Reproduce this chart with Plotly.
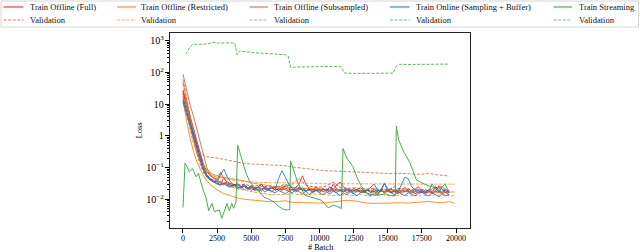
import plotly.graph_objects as go

# ---------------- data ----------------
X_DENSE = list(range(0, 19501, 250))
X_MAIN = [0, 250, 500, 750, 1000, 1250, 1500, 1750, 2000,
          2500, 3000, 3500, 4000, 4500, 5000, 5500, 6000, 6500, 7000,
          7500, 8000, 8500, 9000, 9500, 10000, 10500, 11000, 11500, 12000,
          12500, 13000, 13500, 14000, 14500, 15000, 15500, 16000, 16500, 17000,
          17500, 18000, 18500, 19000, 19500]
X_RESTR = X_MAIN + [19900]

# Train Offline (Full)
FULL_TRAIN_1 = [28, 11, 4.5, 1.8, 0.75, 0.3, 0.13, 0.075, 0.055, 0.048,
                0.042, 0.07, 0.045, 0.035, 0.032, 0.028, 0.03, 0.025, 0.027, 0.022,
                0.026, 0.021, 0.024, 0.03, 0.022, 0.02, 0.025, 0.019, 0.022, 0.02,
                0.028, 0.022, 0.019, 0.024, 0.03, 0.055, 0.03, 0.022, 0.02, 0.025,
                0.019, 0.022, 0.018, 0.024, 0.02, 0.028, 0.035, 0.025, 0.02, 0.018,
                0.022, 0.019, 0.024, 0.018, 0.02, 0.017, 0.021, 0.018, 0.02, 0.016,
                0.019, 0.022, 0.017, 0.02, 0.018, 0.024, 0.019, 0.016, 0.021, 0.025,
                0.018, 0.016, 0.02, 0.017, 0.025, 0.019, 0.016, 0.021, 0.017]
FULL_TRAIN_2 = [22, 8, 3.2, 1.3, 0.5, 0.2, 0.09, 0.055, 0.042, 0.036,
                0.032, 0.028, 0.05, 0.03, 0.026, 0.03, 0.024, 0.022, 0.026, 0.02,
                0.023, 0.019, 0.021, 0.018, 0.025, 0.02, 0.017, 0.022, 0.019, 0.024,
                0.02, 0.018, 0.021, 0.017, 0.02, 0.023, 0.018, 0.02, 0.016, 0.019,
                0.021, 0.017, 0.02, 0.018, 0.03, 0.022, 0.018, 0.02, 0.016, 0.019,
                0.017, 0.021, 0.016, 0.018, 0.02, 0.016, 0.018, 0.015, 0.019, 0.017,
                0.02, 0.016, 0.018, 0.015, 0.019, 0.017, 0.022, 0.018, 0.015, 0.017,
                0.02, 0.016, 0.019, 0.015, 0.018, 0.027, 0.02, 0.016, 0.014]
FULL_VAL_1 = [18, 6, 2.2, 0.8, 0.3, 0.13, 0.07, 0.05, 0.04,
              0.032, 0.028, 0.026, 0.024, 0.025, 0.022, 0.023, 0.021, 0.022, 0.02,
              0.022, 0.02, 0.021, 0.019, 0.02, 0.019, 0.021, 0.019, 0.02, 0.018,
              0.019, 0.018, 0.019, 0.017, 0.018, 0.017, 0.018, 0.017, 0.018, 0.016,
              0.017, 0.016, 0.017, 0.016, 0.017]
FULL_VAL_2 = [25, 9, 3.5, 1.4, 0.6, 0.25, 0.11, 0.06, 0.045,
              0.038, 0.033, 0.03, 0.028, 0.03, 0.026, 0.027, 0.025, 0.026, 0.024,
              0.026, 0.03, 0.045, 0.028, 0.025, 0.024, 0.026, 0.035, 0.024, 0.022,
              0.023, 0.022, 0.021, 0.022, 0.02, 0.021, 0.02, 0.022, 0.02, 0.021,
              0.02, 0.019, 0.024, 0.02, 0.019]

# Train Offline (Restricted)
RESTR_TRAIN_1 = [50, 14, 4, 1.2, 0.4, 0.17, 0.1, 0.075, 0.065,
                 0.055, 0.048, 0.045, 0.042, 0.038, 0.033, 0.03, 0.028, 0.026, 0.025,
                 0.024, 0.023, 0.023, 0.022, 0.022, 0.021, 0.021, 0.02, 0.021, 0.02,
                 0.02, 0.019, 0.02, 0.019, 0.019, 0.018, 0.019, 0.018, 0.018, 0.018,
                 0.017, 0.018, 0.017, 0.017, 0.017, 0.017]
RESTR_TRAIN_2 = [12, 3, 0.9, 0.35, 0.16, 0.09, 0.055, 0.038, 0.029,
                 0.02, 0.015, 0.013, 0.011, 0.01, 0.0095, 0.009, 0.0085, 0.0083, 0.0085,
                 0.009, 0.008, 0.0078, 0.008, 0.0077, 0.0076, 0.0078, 0.0082, 0.0088, 0.0093,
                 0.009, 0.0082, 0.0076, 0.0074, 0.0075, 0.0077, 0.0079, 0.0078, 0.0076, 0.0079,
                 0.0082, 0.0086, 0.008, 0.0078, 0.0084, 0.0075]
RESTR_VAL_1 = [45, 10, 2.5, 0.8, 0.3, 0.15, 0.09, 0.07, 0.06,
               0.05, 0.045, 0.041, 0.038, 0.036, 0.035, 0.034, 0.034, 0.033, 0.033,
               0.033, 0.032, 0.032, 0.032, 0.032, 0.031, 0.031, 0.031, 0.031, 0.031,
               0.031, 0.031, 0.030, 0.031, 0.030, 0.030, 0.031, 0.030, 0.030, 0.030,
               0.030, 0.030, 0.030, 0.030, 0.030, 0.030]
RESTR_VAL_2 = [20, 5, 1.5, 0.6, 0.3, 0.18, 0.12, 0.09, 0.07,
               0.045, 0.032, 0.025, 0.021, 0.019, 0.017, 0.016, 0.015, 0.014, 0.014,
               0.014, 0.015, 0.014, 0.014, 0.015, 0.014, 0.014, 0.013, 0.014, 0.014,
               0.013, 0.014, 0.013, 0.013, 0.014, 0.013, 0.013, 0.014, 0.013, 0.013,
               0.013, 0.013, 0.014, 0.013, 0.013, 0.013]

# Train Offline (Subsampled)
SUB_TRAIN = [89, 30, 10, 4.5, 1.8, 0.7, 0.25, 0.1, 0.06, 0.045,
             0.038, 0.034, 0.03, 0.033, 0.028, 0.026, 0.029, 0.024, 0.026, 0.023,
             0.025, 0.022, 0.024, 0.021, 0.023, 0.02, 0.022, 0.024, 0.021, 0.019,
             0.022, 0.02, 0.021, 0.019, 0.022, 0.02, 0.018, 0.021, 0.019, 0.02,
             0.018, 0.02, 0.019, 0.017, 0.02, 0.018, 0.019, 0.017, 0.019, 0.018,
             0.02, 0.017, 0.018, 0.016, 0.019, 0.017, 0.018, 0.016, 0.018, 0.017,
             0.019, 0.016, 0.018, 0.017, 0.016, 0.018, 0.017, 0.016, 0.018, 0.016,
             0.017, 0.015, 0.017, 0.016, 0.018, 0.016, 0.015, 0.017, 0.016]
SUB_VAL = [60, 16, 4.5, 1.4, 0.55, 0.3, 0.24, 0.22, 0.21,
           0.2, 0.18, 0.165, 0.15, 0.135, 0.13, 0.125, 0.12, 0.12, 0.118,
           0.115, 0.105, 0.098, 0.092, 0.088, 0.083, 0.08, 0.078, 0.076, 0.075,
           0.074, 0.072, 0.07, 0.069, 0.067, 0.066, 0.064, 0.066, 0.063, 0.062,
           0.062, 0.066, 0.06, 0.057, 0.054]

# Train Online (Sampling + Buffer)
ONLINE_TRAIN_1 = [15, 6.5, 2.8, 1.2, 0.5, 0.22, 0.1, 0.06, 0.045, 0.038,
                  0.035, 0.06, 0.09, 0.05, 0.035, 0.028, 0.032, 0.025, 0.03, 0.022,
                  0.027, 0.02, 0.025, 0.03, 0.021, 0.019, 0.024, 0.02, 0.045, 0.08,
                  0.05, 0.03, 0.022, 0.019, 0.024, 0.02, 0.018, 0.022, 0.017, 0.02,
                  0.016, 0.021, 0.018, 0.025, 0.019, 0.016, 0.02, 0.017, 0.022, 0.019,
                  0.015, 0.018, 0.02, 0.016, 0.019, 0.024, 0.03, 0.02, 0.017, 0.032,
                  0.018, 0.016, 0.02, 0.017, 0.03, 0.05, 0.045, 0.025, 0.02, 0.019,
                  0.016, 0.02, 0.018, 0.03, 0.022, 0.017, 0.025, 0.019, 0.016]
ONLINE_TRAIN_2 = [12, 5, 2.1, 0.9, 0.4, 0.17, 0.08, 0.05, 0.04, 0.034,
                  0.03, 0.028, 0.032, 0.026, 0.024, 0.028, 0.022, 0.025, 0.02, 0.023,
                  0.019, 0.022, 0.018, 0.021, 0.017, 0.02, 0.018, 0.016, 0.019, 0.017,
                  0.015, 0.018, 0.016, 0.02, 0.017, 0.015, 0.018, 0.014, 0.017, 0.019,
                  0.016, 0.014, 0.017, 0.015, 0.018, 0.016, 0.013, 0.016, 0.014, 0.017,
                  0.015, 0.013, 0.016, 0.018, 0.015, 0.013, 0.016, 0.014, 0.02, 0.032,
                  0.022, 0.016, 0.014, 0.017, 0.015, 0.013, 0.016, 0.014, 0.013, 0.015,
                  0.017, 0.014, 0.013, 0.016, 0.014, 0.012, 0.015, 0.013, 0.014]
ONLINE_VAL = [13, 5.5, 2.4, 1.0, 0.45, 0.2, 0.09, 0.055, 0.042,
              0.034, 0.03, 0.028, 0.026, 0.025, 0.024, 0.023, 0.022, 0.023, 0.025,
              0.03, 0.024, 0.022, 0.021, 0.02, 0.021, 0.02, 0.022, 0.019, 0.02,
              0.019, 0.018, 0.019, 0.018, 0.021, 0.019, 0.025, 0.02, 0.018, 0.019,
              0.018, 0.017, 0.02, 0.018, 0.017]

# Train Streaming
STREAM_X = [0, 150, 470, 710, 950, 1130, 1440, 1690, 1880, 2130,
            2300, 2670, 2840, 3080, 3220, 3400, 3570, 3710, 3880, 4010,
            4200, 4400, 4600, 4900, 5200, 5500, 5900, 6300, 6700, 7000,
            7300, 7600, 7820, 7880, 8100, 8430, 8700, 8920, 9300, 9650,
            10140, 10630, 11000, 11300, 11600, 11720, 12000, 12450, 12820, 13100,
            13430, 13800, 14290, 14800, 15200, 15550, 15630, 15800, 16200, 16600,
            17100, 17500, 17830, 18200, 18560, 19000, 19200, 19410]
STREAM_TRAIN = [0.0055, 0.14, 0.074, 0.093, 0.051, 0.066, 0.022, 0.011, 0.0044, 0.0074,
                0.0041, 0.0046, 0.0025, 0.0052, 0.0074, 0.0044, 0.0074, 0.0052, 0.0083, 0.5,
                0.25, 0.12, 0.07, 0.035, 0.025, 0.02, 0.012, 0.01, 0.008, 0.006,
                0.005, 0.0046, 0.0048, 0.16, 0.08, 0.032, 0.02, 0.0135, 0.012, 0.011,
                0.0093, 0.0054, 0.0065, 0.006, 0.0051, 0.4, 0.2, 0.107, 0.041, 0.025,
                0.0162, 0.014, 0.0135, 0.015, 0.013, 0.013, 2.0, 0.74, 0.3, 0.15,
                0.041, 0.033, 0.028, 0.025, 0.022, 0.025, 0.03, 0.02]
STREAM_VAL_X = [200, 500, 730, 1000, 1500, 2000, 2200, 2500, 3000, 3500,
                3800, 3960, 4150, 4500, 5000, 5500, 6000, 6500, 7000, 7500,
                7700, 7900, 8500, 9000, 10000, 11000, 11600, 11800, 12500, 13500,
                14500, 15400, 15600, 15870, 16500, 17500, 18500, 19400]
STREAM_VAL = [380, 620, 790, 760, 780, 820, 900, 840, 850, 860,
              820, 360, 470, 450, 430, 410, 400, 390, 375, 360,
              330, 145, 148, 150, 158, 155, 150, 96, 93, 92,
              93, 95, 150, 180, 178, 180, 182, 183]

LEGEND_LABELS = ["Train Offline (Full)", "Train Offline (Restricted)",
                 "Train Offline (Subsampled)", "Train Online (Sampling + Buffer)",
                 "Train Streaming"]
VAL_LABEL = "Validation"
X_TITLE = "# Batch"
Y_TITLE = "Loss"
X_TICKS = [0, 2500, 5000, 7500, 10000, 12500, 15000, 17500, 20000]

# ---------------- styles ----------------
RED, ORANGE, BROWN, BLUE, GREEN = "#d62728", "#ff7f0e", "#c0673f", "#1f77b4", "#2ca02c"
COLORS = [RED, ORANGE, BROWN, BLUE, GREEN]
FONT = "Liberation Serif"
DASH = "3px,1.6px"
W, H = 640, 252
ML, MR, MT, MB = 170, 170, 33, 24

fig = go.Figure()


def add(x, y, color, dashed=False):
    fig.add_trace(go.Scatter(
        x=x, y=y, mode="lines", showlegend=False, hoverinfo="skip",
        opacity=0.85,
        line=dict(color=color, width=0.9 if dashed else 1.0,
                  dash=DASH if dashed else "solid")))


add(X_DENSE, FULL_TRAIN_1, RED)
add(X_DENSE, FULL_TRAIN_2, RED)
add(X_MAIN, FULL_VAL_1, RED, True)
add(X_MAIN, FULL_VAL_2, RED, True)
add(X_RESTR, RESTR_TRAIN_1, ORANGE)
add(X_RESTR, RESTR_TRAIN_2, ORANGE)
add(X_RESTR, RESTR_VAL_1, ORANGE, True)
add(X_RESTR, RESTR_VAL_2, ORANGE, True)
add(X_DENSE, SUB_TRAIN, BROWN)
add(X_MAIN, SUB_VAL, BROWN, True)
add(X_DENSE, ONLINE_TRAIN_1, BLUE)
add(X_DENSE, ONLINE_TRAIN_2, BLUE)
add(X_MAIN, ONLINE_VAL, BLUE, True)
add(STREAM_X, STREAM_TRAIN, GREEN)
add(STREAM_VAL_X, STREAM_VAL, GREEN, True)

# ---------------- manual legend (pixel layout) ----------------
PW, PH = W - ML - MR, H - MT - MB


def px(x):
    return (x - ML) / PW


def py(y):
    return (H - MB - y) / PH


COL_LINE = [(3.5, 23.5), (117, 136), (249.5, 268), (390, 409.5), (553.5, 572)]
COL_TEXT = [28.5, 140, 273, 414.5, 577.5]
ROW_Y = [7, 20]

shapes = [dict(type="rect", xref="paper", yref="paper",
               x0=px(1), x1=px(638.5), y0=py(1), y1=py(27),
               line=dict(color="#d6d6d6", width=1), fillcolor="white", layer="below")]
annotations = []
for i, c in enumerate(COLORS):
    x0, x1 = COL_LINE[i]
    shapes.append(dict(type="line", xref="paper", yref="paper",
                       x0=px(x0), x1=px(x1), y0=py(ROW_Y[0]), y1=py(ROW_Y[0]),
                       line=dict(color=c, width=2.2), opacity=0.5))
    shapes.append(dict(type="line", xref="paper", yref="paper",
                       x0=px(x0), x1=px(x1), y0=py(ROW_Y[1]), y1=py(ROW_Y[1]),
                       line=dict(color=c, width=0.9, dash=DASH), opacity=0.7))
    for r, label in enumerate([LEGEND_LABELS[i], VAL_LABEL]):
        annotations.append(dict(xref="paper", yref="paper", x=px(COL_TEXT[i]),
                                y=py(ROW_Y[r]), text=label, showarrow=False,
                                xanchor="left", yanchor="middle", borderpad=0,
                                font=dict(family=FONT, size=8.5, color="#111")))

# x-axis title as an annotation, placed just under the tick labels
annotations.append(dict(xref="paper", yref="paper", x=0.5, y=py(247.3),
                        text=X_TITLE, showarrow=False, xanchor="center",
                        yanchor="middle", borderpad=0,
                        font=dict(family=FONT, size=8.2, color="black")))

fig.update_layout(
    width=W, height=H, margin=dict(l=ML, r=MR, t=MT, b=MB, autoexpand=False),
    paper_bgcolor="white", plot_bgcolor="white",
    font=dict(family=FONT, size=8, color="black"),
    shapes=shapes, annotations=annotations, showlegend=False,
    xaxis=dict(range=[-952, 21026], tickvals=X_TICKS,
               ticktext=[str(v) for v in X_TICKS], automargin=False,
               ticks="outside", ticklen=3.5, tickwidth=0.8, tickcolor="black",
               ticklabelstandoff=-1,
               showline=True, linecolor="#222", linewidth=1.2, mirror=True,
               showgrid=False, zeroline=False,
               tickfont=dict(family=FONT, size=8)),
    yaxis=dict(type="log", range=[-2.905, 3.243], dtick=1, exponentformat="power",
               automargin=False,
               ticks="outside", ticklen=3.5, tickwidth=0.8, tickcolor="black",
               minor=dict(ticks="outside", ticklen=2, tickwidth=0.6, tickcolor="black",
                          dtick="D1", showgrid=False),
               showline=True, linecolor="#222", linewidth=1.2, mirror=True,
               showgrid=False, zeroline=False,
               tickfont=dict(family=FONT, size=8),
               title=dict(text=Y_TITLE, font=dict(family=FONT, size=8.5), standoff=2)),
)

fig.write_html("out.html", config={"displayModeBar": False},
               post_script="document.body.style.margin='0';document.body.style.padding='0';")
